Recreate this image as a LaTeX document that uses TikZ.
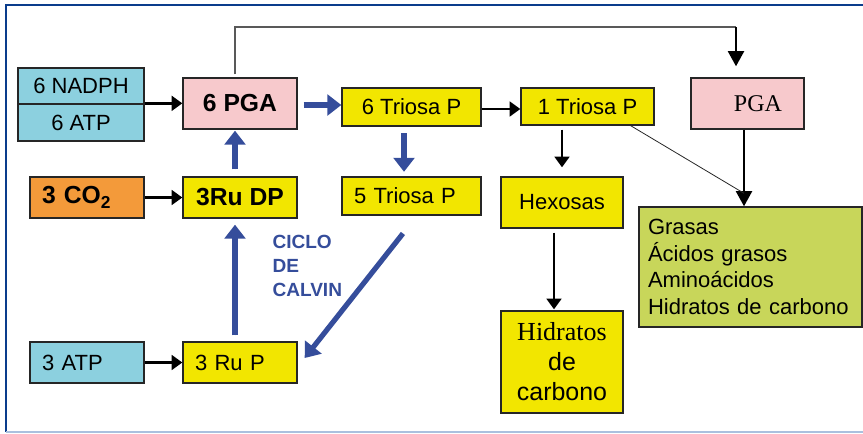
\documentclass[tikz,border=0pt]{standalone}
\usepackage{fontspec}
\setmainfont{Liberation Sans}
\newfontfamily\timesfont{Liberation Serif}
\usetikzlibrary{arrows.meta,calc}

\definecolor{boxcyan}{RGB}{140,208,223}
\definecolor{boxpink}{RGB}{247,201,204}
\definecolor{boxyellow}{RGB}{242,230,0}
\definecolor{boxorange}{RGB}{243,154,58}
\definecolor{boxgreen}{RGB}{200,214,90}
\definecolor{calvinblue}{RGB}{53,77,155}
\definecolor{frameblue}{RGB}{10,60,140}
\definecolor{framelight}{RGB}{170,192,222}

\tikzset{every picture/.style={line width=0.75pt},
  box/.style={draw=black!85, line width=1pt, inner sep=0pt, font=\fontsize{16.5}{19.9}\selectfont},
  boldbox/.style={box, font=\bfseries\fontsize{18.5}{22}\selectfont},
  leftbox/.style={align=left, inner xsep=9pt, text width=#1},
  blackarrow/.style={-{Triangle[length=8pt,width=11pt]}, line width=2pt},
  bigarrow/.style={-{Triangle[length=11.5pt,width=12pt]}, line width=2pt},
  bluearrow/.style={-{Triangle[length=10.5pt,width=15.5pt]}, line width=3.9pt, draw=calvinblue, fill=calvinblue},
  thinline/.style={line width=0.9pt, draw=black!65}
}

\begin{document}
\begin{tikzpicture}[x=0.75pt,y=0.75pt,yscale=-1,xscale=1]
\useasboundingbox (0,0) rectangle (863,433);

% frame
\draw [frameblue, line width=1.5pt] (6,432) -- (6,5) -- (863,5);
\draw [framelight, line width=1.5pt] (6,432) -- (863,432);

% inputs
\node [box, fill=boxcyan, minimum width=94.5pt, minimum height=27pt] (nadph) at (81,86) {6 NADPH};
\node [box, fill=boxcyan, minimum width=94.5pt, minimum height=27.75pt] (atp6) at (81,122.5) {6 ATP};
\node [boldbox, fill=boxorange, leftbox=67.5pt, minimum height=30.75pt] (co2) at (87,197.5) {3 CO\raisebox{-3.5pt}{\fontsize{13}{13}\selectfont 2}};
\node [box, fill=boxcyan, leftbox=67.5pt, minimum height=30.75pt] (atp3) at (87,362.5) {3 ATP};

% cycle
\node [boldbox, fill=boxpink, minimum width=85.5pt, minimum height=38.25pt] (pga6) at (240,103.5) {6 PGA};
\node [boldbox, fill=boxyellow, minimum width=85.5pt, minimum height=30.75pt] (rudp) at (240,197.5) {3Ru DP};
\node [box, fill=boxyellow, leftbox=67.5pt, minimum height=30.75pt] (rup) at (240,362.5) {3 Ru P};
\node [box, fill=boxyellow, minimum width=104.25pt, minimum height=28.5pt] (tri6) at (411.5,107) {6 Triosa P};
\node [box, fill=boxyellow, leftbox=86.25pt, minimum height=28.5pt] (tri5) at (411.5,196) {5 Triosa P};

% products
\node [box, fill=boxyellow, minimum width=99.75pt, minimum height=27.75pt] (tri1) at (587.5,106.5) {1 Triosa P};
\node [box, fill=boxyellow, minimum width=91.5pt, minimum height=38.25pt] (hex) at (562,202.5) {Hexosas};
\node [box, fill=boxyellow, minimum width=91.5pt, minimum height=76.5pt, align=center, font=\fontsize{18.7}{22.5}\selectfont] (hid) at (562,362) {{\timesfont\fontsize{19.5}{22.5}\selectfont Hidratos}\\de\\carbono};
\node [box, fill=boxpink, minimum height=38.25pt, inner xsep=16.5pt, text width=51.75pt, align=right, font=\timesfont\fontsize{18}{22}\selectfont] (pga) at (747.5,103.5) {PGA};
\node [box, fill=boxgreen, minimum height=90pt, inner xsep=6.75pt, text width=153.75pt, align=left] (green) at (750.5,267) {Grasas\\Ácidos grasos\\Aminoácidos\\Hidratos de carbono};

% label
\node [anchor=north west, inner sep=0pt, align=left, text=calvinblue, font=\bfseries\fontsize{14.3}{18}\selectfont] (calvin) at (272,235) {CICLO\\DE\\CALVIN};

% black arrows
\draw [blackarrow] (atp6.north east) -- (atp6.north east -| pga6.west);
\draw [blackarrow] (co2.east) -- (rudp.west);
\draw [blackarrow] (atp3.east) -- (rup.west);
\draw [blackarrow] ($(tri6.east)+(0,2)$) -- ($(tri1.west)+(0,2.5)$);
\draw [blackarrow, shorten <=3pt, shorten >=6.75pt] (hex.north |- tri1.south) -- (hex.north);
\draw [blackarrow, shorten <=3pt, shorten >=0.75pt] ($(hex.south)+(-8,0)$) -- ($(hid.north)+(-8,0)$);

% blue arrows
\draw [bluearrow] ($(pga6.east)+(6,1.5)$) -- ($(tri6.west)+(0,-2)$);
\draw [bluearrow, shorten <=5pt, shorten >=3.4pt] ($(tri6.south)+(-7.5,0)$) -- ($(tri5.north)+(-7.5,0)$);
\draw [bluearrow, shorten <=17pt] ($(tri5.south)+(5.5,0)$) -- ($(rup.east)+(7,-4.5)$);
\draw [bluearrow, shorten <=4.5pt, shorten >=4.5pt] ($(rup.north)+(-5,0)$) -- ($(rudp.south)+(-5,0)$);
\draw [bluearrow, shorten <=5.25pt, shorten >=0.75pt] ($(rudp.north)+(-5,0)$) -- ($(pga6.south)+(-5,0)$);

% PGA branch
\coordinate (top) at (736,27);
\draw [thinline, shorten <=2.25pt] ($(pga6.north)+(-5,0)$) |- (top);
\draw [bigarrow, shorten >=8.25pt] (top) -- (top |- pga.north);
\coordinate (drop) at ($(pga.south)+(-3.5,0)$);
\draw [bigarrow] (drop) -- (drop |- green.north);
\coordinate (meet) at ($(drop)!0.83!(drop |- green.north)$);
\draw [thinline, line width=0.6pt, draw=black!85] ($(tri1.south east)+(-24,0)$) -- (meet);

\end{tikzpicture}
\end{document}
